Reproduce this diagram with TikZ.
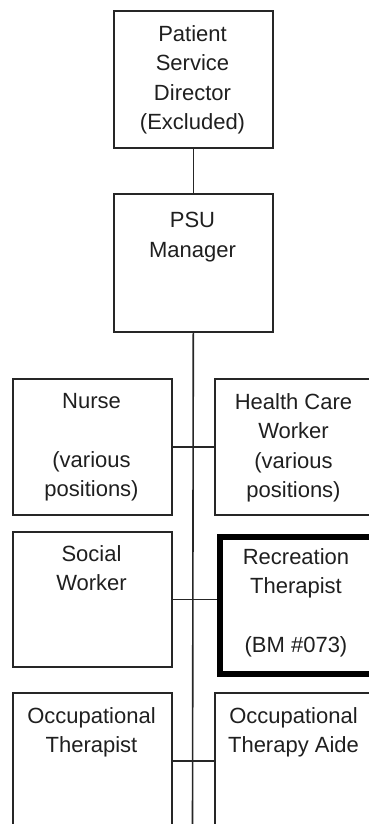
\documentclass[tikz,border=0pt]{standalone}
\usepackage{fontspec}
\setmainfont{Liberation Sans}
\begin{document}
\begin{tikzpicture}[x=1pt,y=-1pt,
  orgbox/.style={draw=black!85,line width=1.6pt,rectangle,inner sep=0pt,anchor=north west},
  thickbox/.style={draw=black,line width=5.5pt,rectangle,inner sep=0pt,anchor=north west},
  lbl/.style={anchor=north,inner sep=0pt,align=center,text=black!88,font=\fontsize{22}{29.5}\selectfont},
  conn/.style={draw=black!85,line width=1.6pt}]
\useasboundingbox (0,0) rectangle (369,824);
\clip (0,0) rectangle (369,824);
% boxes
\node[orgbox,minimum width=159pt,minimum height=137pt] (psd) at (113,10) {};
\node[orgbox,minimum width=159pt,minimum height=138pt] (psu) at (113,193) {};
\node[orgbox,minimum width=159pt,minimum height=136pt] (nurse) at (12,378) {};
\node[orgbox,minimum width=159pt,minimum height=136pt] (hcw) at (214,378) {};
\node[orgbox,minimum width=159pt,minimum height=135pt] (sw) at (12,531) {};
\node[thickbox,minimum width=159pt,minimum height=137pt] (rt) at (217,534) {};
\node[orgbox,minimum width=159pt,minimum height=136pt] (ot) at (12,692) {};
\node[orgbox,minimum width=159pt,minimum height=136pt] (ota) at (214,692) {};
% labels
\node[lbl] (tpsd) at (192.5,25) {Patient\\Service\\Director\\(Excluded)};
\node[lbl] (tpsu) at (192.5,212) {PSU\\Manager};
\node[lbl] (tnurse) at (91.5,393) {Nurse\\[29.5pt](various\\positions)};
\node[lbl] (thcw) at (293.5,393) {Health Care\\Worker\\(various\\positions)};
\node[lbl] (tsw) at (91.5,545) {Social\\Worker};
\node[lbl] (trt) at (296,548) {Recreation\\Therapist\\[29.5pt](BM \#073)};
\node[lbl] (tot) at (91.5,707) {Occupational\\Therapist};
\node[lbl] (tota) at (293.5,707) {Occupational\\Therapy Aide};
% connectors
\coordinate (trunkend) at (192.5,830);
\draw[conn] (psd.south) -- (psu.north);
\draw[conn] (psu.south) -- (trunkend);
\draw[conn] (nurse.east) -- (hcw.west);
\draw[conn] (sw.east) -- (sw.east -| rt.west);
\draw[conn] (ot.east) -- (ota.west);
\end{tikzpicture}
\end{document}
